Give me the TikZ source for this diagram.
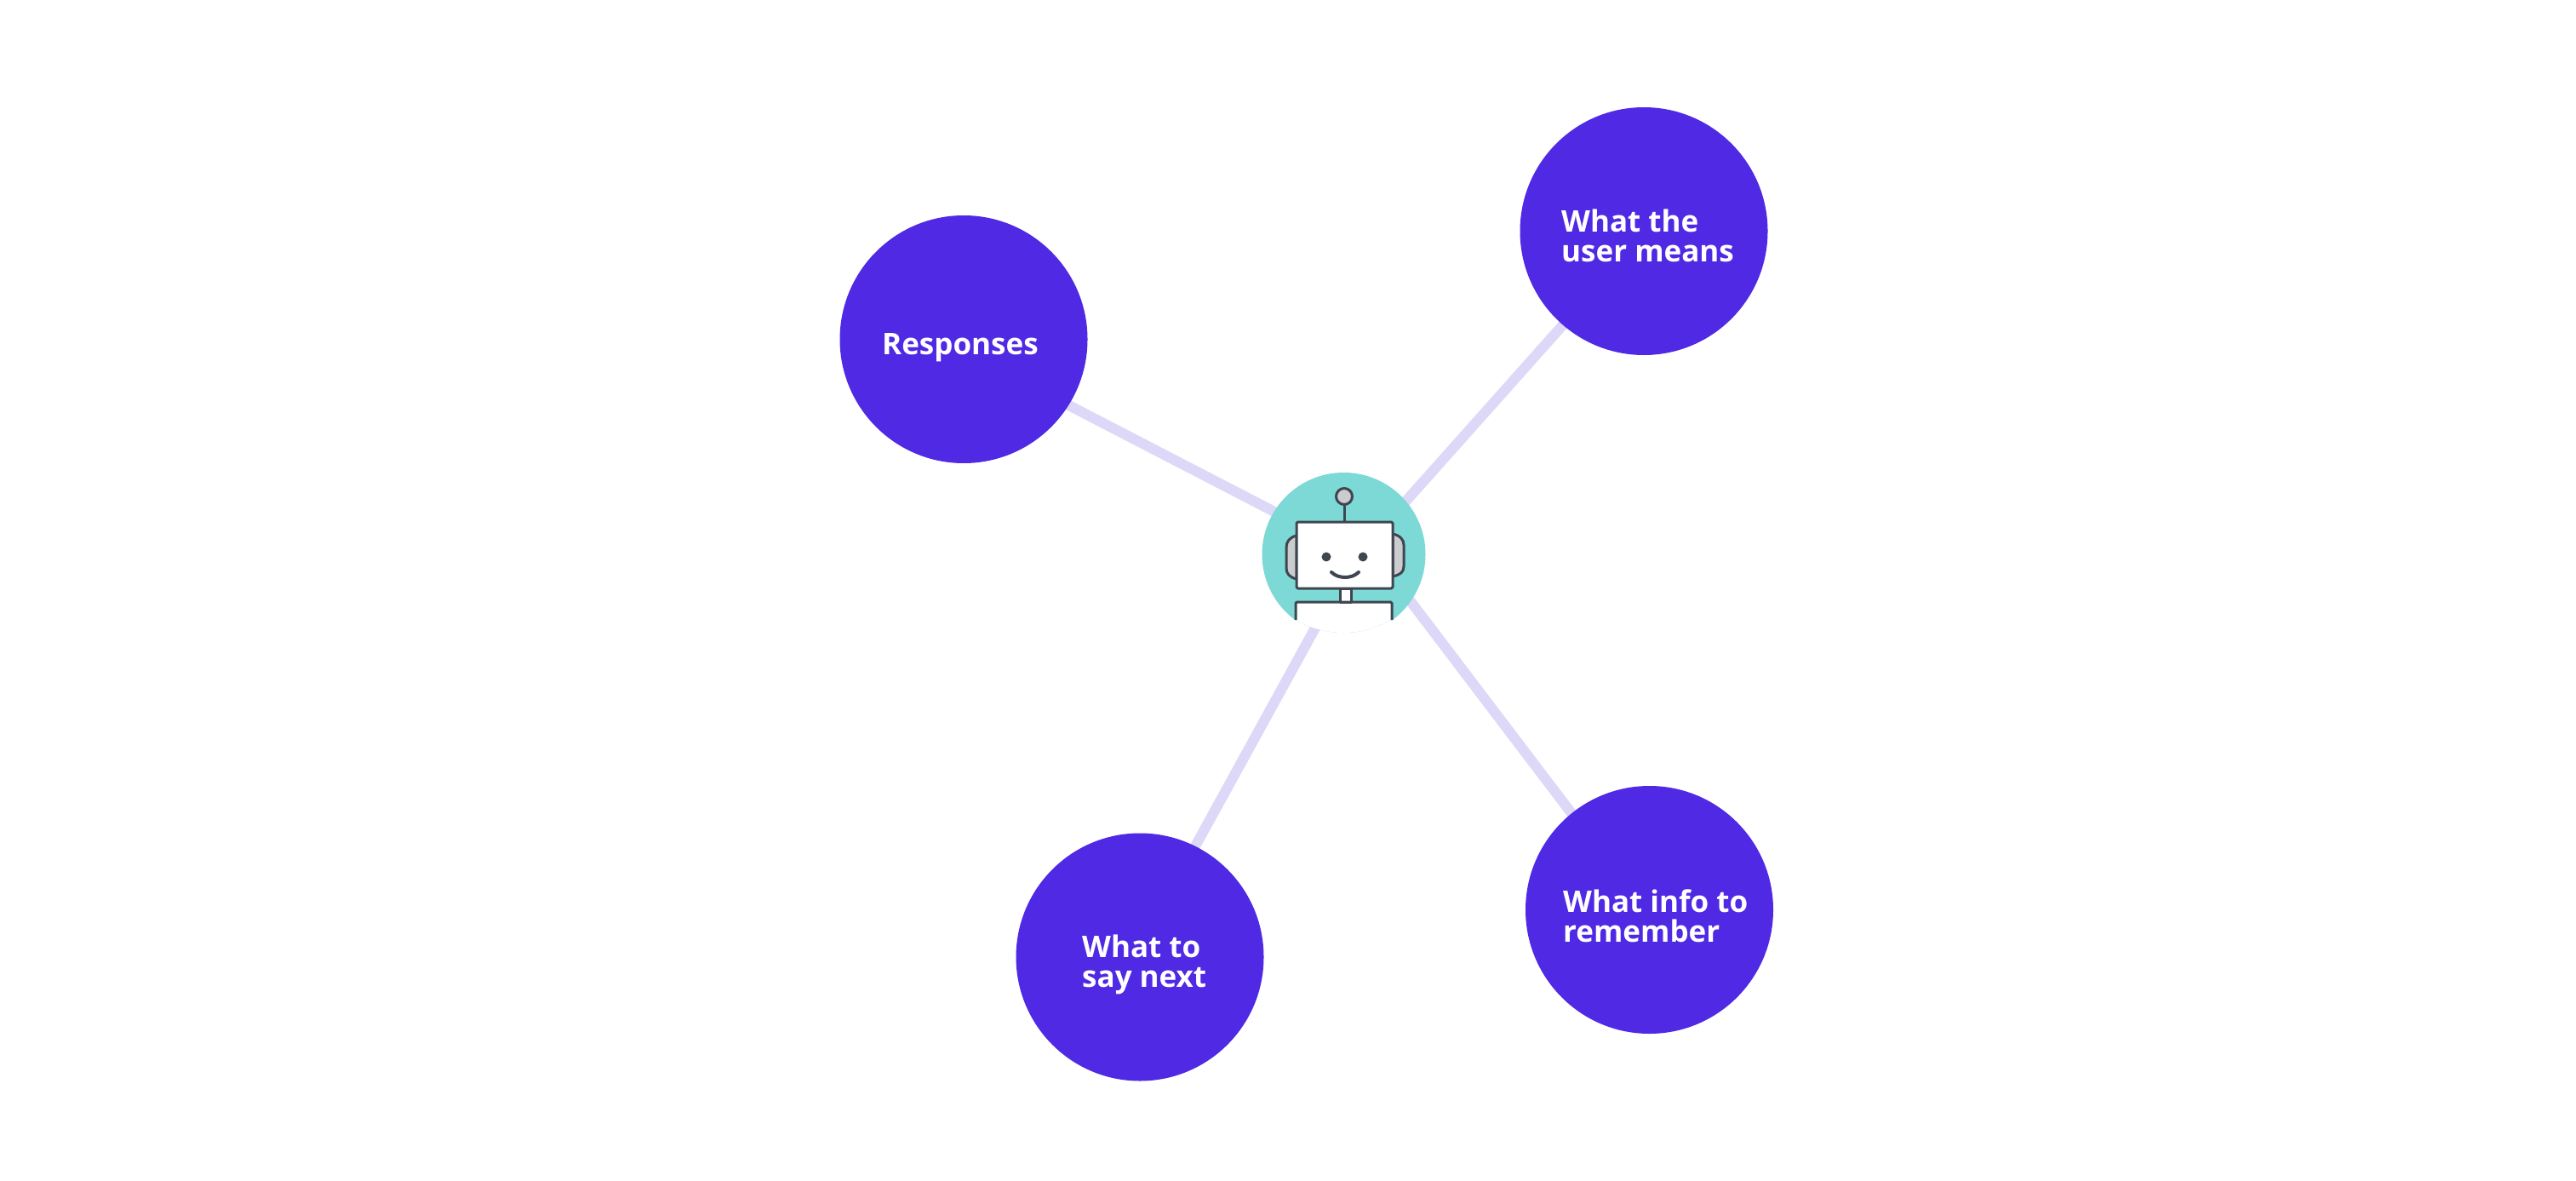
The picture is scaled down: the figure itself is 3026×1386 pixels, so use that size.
\documentclass[tikz,border=0pt]{standalone}
\usepackage{fontspec}
\setmainfont{Open Sans}
\usetikzlibrary{calc}
\pgfdeclarelayer{paper}
\pgfdeclarelayer{spokes}
\pgfsetlayers{paper,spokes,main}
\definecolor{bubble}{HTML}{5029E4}
\definecolor{spoke}{HTML}{DDD8F7}
\definecolor{hubteal}{HTML}{7CD9D6}
\definecolor{ink}{HTML}{3F4650}
\definecolor{earfill}{HTML}{CBCCCD}
\tikzset{
  bubblenode/.style={circle,fill=bubble,minimum size=291pt,inner sep=0pt},
  labelnode/.style={text=white,font=\fontsize{35}{35}\selectfont\bfseries,align=left,inner sep=0pt,anchor=base west},
  spokeline/.style={draw=spoke,line width=12pt},
  botline/.style={draw=ink,line width=3pt,line join=round},
}
\begin{document}
\begin{tikzpicture}[x=1pt,y=-1pt]
\useasboundingbox (0,0) rectangle (3026,1386);
\begin{pgfonlayer}{paper}
\fill[white] (0,0) rectangle (3026,1386);
\end{pgfonlayer}
\node[bubblenode] (resp) at (1132,398.5) {};
\node[bubblenode] (means) at (1931,271.5) {};
\node[bubblenode] (next) at (1339,1124) {};
\node[bubblenode] (info) at (1937.5,1068.5) {};
\node[labelnode] (respT) at (1036,416) {Responses};
\node[labelnode] (meansT) at (1834,307) {What the\\user means};
\node[labelnode] (nextT) at (1271,1159) {What to\\say next};
\node[labelnode] (infoT) at (1836,1106) {What info to\\remember};
% hub
\node[circle,minimum size=192pt,inner sep=0pt] (hub) at (1578.5,651) {};
\begin{scope}
\clip (1470,540) -- (1690,540) -- (1690,728) -- (1634,728) .. controls (1615,738) and (1600,743) .. (1578,743) .. controls (1560,743) and (1538,738) .. (1522,728) -- (1470,728) -- cycle;
\fill[hubteal] (hub) circle (96pt);
\end{scope}
\begin{pgfonlayer}{spokes}
\coordinate (hubA) at (1578,643);
\coordinate (hubB) at (1578,671);
\coordinate (hubC) at (1592.5,651);
\coordinate (hubD) at (1615,651);
\draw[spokeline] (hubA) -- ($(resp)+(0,13.5)$);
\draw[spokeline] (hubB) -- ($(means)+(0,3.5)$);
\draw[spokeline] (hubC) -- ($(next)+(-6,-1)$);
\draw[spokeline] (hubD) -- ($(info)+(0,7)$);
\end{pgfonlayer}
\fill[white] (1522,707) -- (1634,707) -- (1634,728) .. controls (1615,738) and (1600,743) .. (1578,743) .. controls (1560,743) and (1538,738) .. (1522,728) -- cycle;
% robot
\draw[botline,fill=earfill] (1523,629) .. controls (1515,631) and (1511,636) .. (1511,643) -- (1511,667) .. controls (1511,674) and (1515,678) .. (1523,680) -- cycle;
\draw[botline,fill=earfill] (1636,627) .. controls (1645,629) and (1649,634) .. (1649,640) -- (1649,665) .. controls (1649,672) and (1645,675) .. (1636,677) -- cycle;
\draw[botline] (1579,592) -- (1579,613);
\draw[botline,fill=earfill] (1579,583) circle (9.5pt);
\draw[botline,fill=white,rounded corners=1.5pt] (1523,613) rectangle (1636,691);
\draw[botline,fill=white] (1574,691) rectangle (1587,707);
\draw[botline,rounded corners=1.5pt] (1522,728) -- (1522,707) -- (1635,707) -- (1635,728);
\fill[ink] (1558,654) circle (5.5pt) (1601,654) circle (5.5pt);
\draw[botline,line width=4pt,line cap=round] (1564,672) .. controls (1572,680) and (1588,680) .. (1596,672);
\end{tikzpicture}
\end{document}
